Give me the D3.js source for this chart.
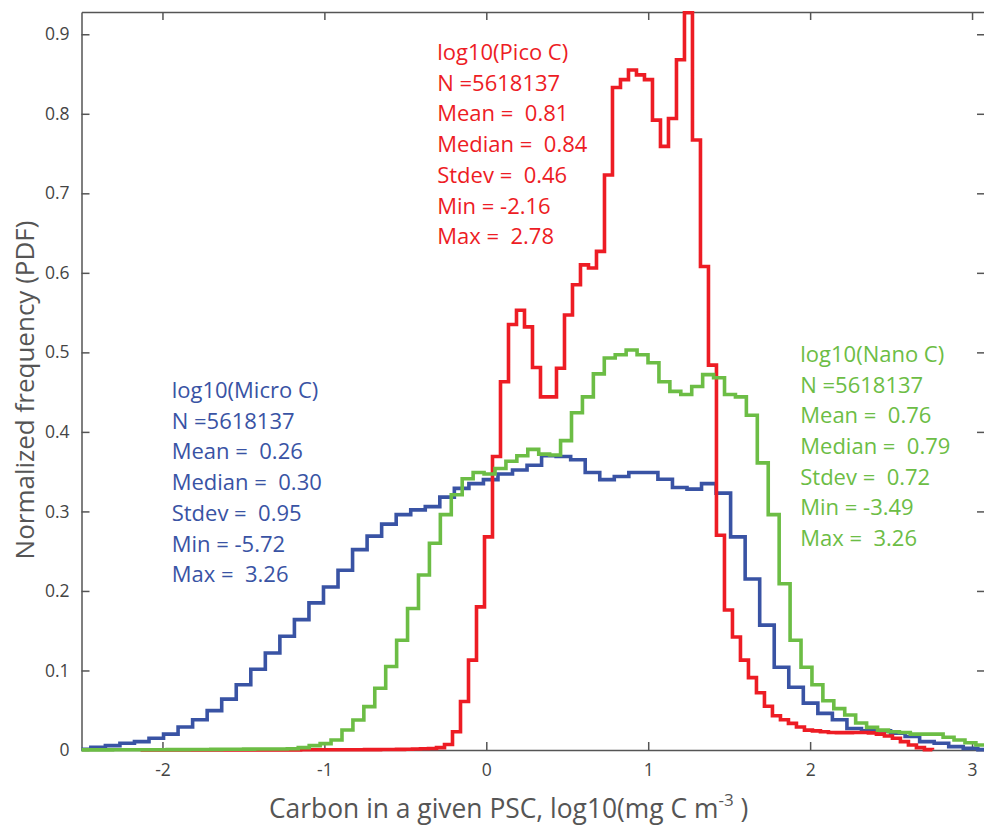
<!DOCTYPE html>
<html>
<head>
<meta charset="utf-8">
<script src="https://cdn.jsdelivr.net/npm/d3@7"></script>
<style>
  body { margin: 0; background: #fff; }
  svg text { font-family: "Open Sans", sans-serif; }
</style>
</head>
<body>
<svg id="chart" width="984" height="830"></svg>
<script>
// three PSC histograms, 100 bins each from min to max, drawn as stairs at bin centres
// (draw order: micro, pico, nano)
const series = ['Micro', 'Pico', 'Nano'];
const seriesColor = ['#3953a4', '#ed1c24', '#6cbd45'];
const seriesN = [5618137, 5618137, 5618137];
const seriesMean = [0.26, 0.81, 0.76];
const seriesMedian = [0.30, 0.84, 0.79];
const seriesStdev = [0.95, 0.46, 0.72];
const seriesMin = [-5.72, -2.16, -3.49];
const seriesMax = [3.26, 2.78, 3.26];
const nBins = 100;

// first bin index listed in each values array (bins further left are off the axes)
const firstBin = [35, 0, 14];

const microValues = [
  0.001, 0.0034, 0.0055, 0.0084, 0.0105, 0.0147, 0.020, 0.029, 0.038, 0.0495,
  0.064, 0.082, 0.1015, 0.122, 0.143, 0.164, 0.185, 0.205, 0.226, 0.252,
  0.269, 0.284, 0.296, 0.302, 0.306, 0.318, 0.329, 0.335, 0.340, 0.347,
  0.352, 0.358, 0.370, 0.369, 0.365, 0.349, 0.340, 0.344, 0.349, 0.349,
  0.3405, 0.330, 0.328, 0.335, 0.323, 0.268, 0.215, 0.157, 0.104, 0.079,
  0.059, 0.046, 0.038, 0.027, 0.024, 0.024, 0.021, 0.017, 0.0105, 0.0084,
  0.0042, 0.0021, 0.0005, 0.0003, 0.0002
];

const picoValues = [
  0.0001, 0.0001, 0.0001, 0.0001, 0.0001, 0.0001, 0.0001, 0.0001, 0.0001, 0.0001,
  0.0001, 0.0001, 0.0001, 0.0002, 0.0002, 0.0002, 0.0002, 0.0002, 0.0002, 0.0002,
  0.0003, 0.0003, 0.0003, 0.0003, 0.0003, 0.0004, 0.0004, 0.0004, 0.0005, 0.0005,
  0.0006, 0.0007, 0.0008, 0.0010, 0.0012, 0.0015, 0.0019, 0.003, 0.007, 0.023,
  0.061, 0.113, 0.180, 0.268, 0.369, 0.463, 0.535, 0.553, 0.532, 0.481,
  0.444, 0.444, 0.480, 0.547, 0.585, 0.610, 0.606, 0.627, 0.723, 0.833,
  0.843, 0.855, 0.849, 0.843, 0.792, 0.759, 0.794, 0.868, 0.927, 0.767,
  0.608, 0.484, 0.270, 0.176, 0.142, 0.113, 0.091, 0.072, 0.055, 0.043,
  0.038, 0.0335, 0.029, 0.025, 0.024, 0.023, 0.022, 0.0218, 0.0218, 0.022,
  0.022, 0.0215, 0.020, 0.0176, 0.0147, 0.0105, 0.0063, 0.003, 0.0005, 0.0002
];

const nanoValues = [
  0.0002, 0.0002, 0.0002, 0.0003, 0.0003, 0.0003, 0.0004, 0.0004, 0.0005, 0.0005,
  0.0006, 0.0007, 0.0008, 0.0009, 0.0010, 0.0011, 0.0012, 0.0013, 0.0012, 0.0016,
  0.003, 0.0055, 0.008, 0.0126, 0.0252, 0.0377, 0.0545, 0.0776, 0.105, 0.138,
  0.178, 0.220, 0.260, 0.296, 0.321, 0.341, 0.349, 0.347, 0.354, 0.363,
  0.370, 0.378, 0.372, 0.371, 0.389, 0.424, 0.444, 0.473, 0.493, 0.497,
  0.503, 0.497, 0.487, 0.463, 0.451, 0.447, 0.457, 0.472, 0.468, 0.447,
  0.444, 0.421, 0.361, 0.296, 0.209, 0.138, 0.104, 0.082, 0.062, 0.052,
  0.044, 0.034, 0.0285, 0.025, 0.023, 0.022, 0.020, 0.020, 0.020, 0.016,
  0.0126, 0.0092, 0.0063, 0.0042, 0.003, 0.002
];

const seriesValues = [microValues, picoValues, nanoValues];

const xTicks = [-2, -1, 0, 1, 2, 3];
const yTicks = [0, 0.1, 0.2, 0.3, 0.4, 0.5, 0.6, 0.7, 0.8, 0.9];
const xDomain = [-2.5, 3.08];
const yDomain = [0, 0.928];

// stats text anchors, in data units (first line)
const labelX = [-1.943, -0.303, 1.939];
const labelY = [0.4426, 0.8676, 0.488];

const margin = {top: 12, right: -1, bottom: 80, left: 81.5};
const width = 984, height = 830;

const svg = d3.select('#chart');

const x = d3.scaleLinear().domain(xDomain).range([margin.left, width - margin.right]);
const y = d3.scaleLinear().domain(yDomain).range([height - margin.bottom, margin.top]);

const axisColor = '#555';
const tickFont = 17.5;

svg.append('clipPath').attr('id', 'plotClip')
  .append('rect')
  .attr('x', margin.left).attr('y', 0)
  .attr('width', width - margin.left - margin.right).attr('height', height - margin.bottom + 6);

// axes (MATLAB box style, ticks inward)
const fmt = d => d === 0 ? '0' : String(d);

const gx = svg.append('g')
  .attr('transform', `translate(0,${y(0)})`)
  .call(d3.axisBottom(x).tickValues(xTicks).tickSizeInner(-8).tickSizeOuter(0).tickPadding(14).tickFormat(fmt));
const gxTop = svg.append('g')
  .attr('transform', `translate(0,${margin.top})`)
  .call(d3.axisTop(x).tickValues(xTicks).tickSizeInner(-8).tickSizeOuter(0).tickFormat(''));
const gy = svg.append('g')
  .attr('transform', `translate(${margin.left},0)`)
  .call(d3.axisLeft(y).tickValues(yTicks).tickSizeInner(-8).tickSizeOuter(0).tickPadding(12).tickFormat(d => d === 0 ? '0' : d3.format('.1f')(d)));
const gyRight = svg.append('g')
  .attr('transform', `translate(${width - margin.right},0)`)
  .call(d3.axisRight(y).tickValues(yTicks).tickSizeInner(-8).tickSizeOuter(0).tickFormat(''));

[gx, gxTop, gy, gyRight].forEach(g => {
  g.select('.domain').attr('stroke', axisColor).attr('stroke-width', 1.5);
  g.selectAll('.tick line').attr('stroke', axisColor).attr('stroke-width', 1.5);
  g.selectAll('.tick text')
    .attr('fill', '#444')
    .style('font-family', '"Open Sans", sans-serif')
    .style('font-size', tickFont + 'px');
});

// stairs
const line = d3.line()
  .x(d => x(d.c))
  .y(d => y(d.v))
  .curve(d3.curveStepAfter);

const plot = svg.append('g').attr('clip-path', 'url(#plotClip)');

series.forEach((name, s) => {
  const w = (seriesMax[s] - seriesMin[s]) / nBins;
  const pts = seriesValues[s].map((v, k) => ({
    c: seriesMin[s] + (firstBin[s] + k + 0.5) * w,
    v: v
  }));
  plot.append('path')
    .datum(pts)
    .attr('d', line)
    .attr('fill', 'none')
    .attr('stroke', seriesColor[s])
    .attr('stroke-width', 3.6)
    .attr('stroke-linejoin', 'miter');
});

// stats text blocks
const signed = v => (v >= 0 ? ' ' : '') + v.toFixed(2);
const lineGap = 30.7;

series.forEach((name, s) => {
  const lines = [
    `log10(${name} C)`,
    `N =${seriesN[s]}`,
    `Mean = ${signed(seriesMean[s])}`,
    `Median = ${signed(seriesMedian[s])}`,
    `Stdev = ${signed(seriesStdev[s])}`,
    `Min = ${signed(seriesMin[s])}`,
    `Max = ${signed(seriesMax[s])}`
  ];
  const t = svg.append('text')
    .attr('x', x(labelX[s]))
    .attr('y', y(labelY[s]))
    .attr('fill', seriesColor[s])
    .style('font-size', '22px')
    .style('white-space', 'pre');
  t.selectAll('tspan')
    .data(lines)
    .enter()
    .append('tspan')
    .attr('x', x(labelX[s]))
    .attr('dy', (d, i) => i === 0 ? 0 : lineGap)
    .text(d => d);
});

// axis titles
svg.append('text')
  .attr('transform', `translate(34,390) rotate(-90)`)
  .attr('text-anchor', 'middle')
  .attr('fill', '#555')
  .style('font-size', '26px')
  .text('Normalized frequency (PDF)');

const xt = svg.append('text')
  .attr('x', 269)
  .attr('y', 818)
  .attr('fill', '#555')
  .style('font-size', '26.4px')
  .style('white-space', 'pre');
xt.append('tspan').text('Carbon in a given PSC, log10(mg C m');
xt.append('tspan').attr('dy', -12).style('font-size', '17px').text('-3');
xt.append('tspan').attr('dy', 12).text(' )');
</script>
</body>
</html>
